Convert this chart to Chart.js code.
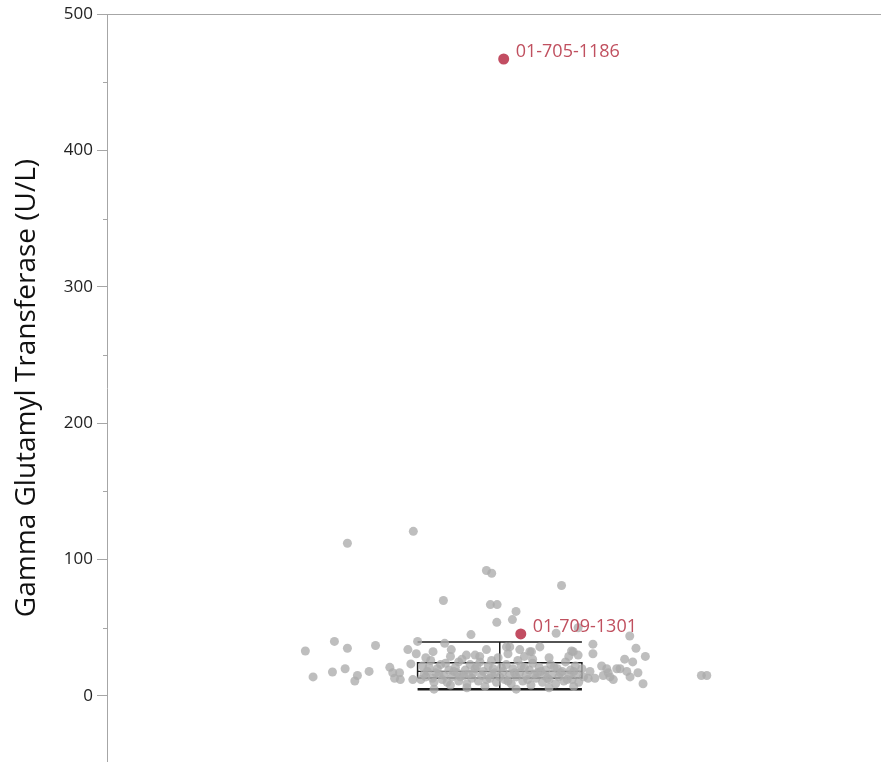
<!DOCTYPE html>
<html>
<head>
<meta charset="utf-8">
<script src="https://cdn.jsdelivr.net/npm/chart.js@4.4.1/dist/chart.umd.min.js"></script>
<style>
  html, body { margin: 0; padding: 0; background: #fff; }
  #wrap { width: 881px; height: 762px; position: relative; }
</style>
</head>
<body>
<div id="wrap"><canvas id="ggt-chart"></canvas></div>
<script>
// valores (x = desplazamiento de jitter, caja = -0.5 .. 0.5)
const grayX = [
  -0.526, -0.927, -0.081, -0.049, 0.376, -0.343, -0.057, -0.016, 0.099, -0.018,
  0.077, -0.175, 0.343, 0.477, 0.791, 0.567, 0.829, 0.886, 0.760, 0.809,
  0.567, 0.732, 0.773, 0.841, 0.793, 0.872, 1.227, 1.260, 0.620, 0.660,
  0.691, 0.549, 0.579, 0.447, 0.477, 0.244, 0.193, -1.183, -1.006, -0.927,
  -0.756, -1.136, -1.018, -0.941, -0.866, -0.882, -0.795, -0.669, -0.651, -0.610,
  -0.640, -0.605, -0.559, -0.500, -0.508, -0.541, -0.529, -0.335, 0.437, 0.651,
  0.712, 0.630, 0.671, 0.538,
  -0.406, -0.295, -0.203, -0.122, -0.081, 0.041, 0.061, 0.122, 0.183,
  -0.47, -0.44, -0.45, -0.42, -0.40, -0.38, -0.37, -0.35, -0.33, -0.31,
  -0.30, -0.29, -0.27, -0.26, -0.25, -0.23, -0.22, -0.21, -0.20, -0.18,
  -0.17, -0.16, -0.15, -0.13, -0.12, -0.11, -0.10, -0.09, -0.07, -0.06,
  -0.05, -0.04, -0.02, -0.01, 0.00, 0.02, 0.03, 0.04, 0.06, 0.07,
  0.08, 0.10, 0.11, 0.12, 0.14, 0.15, 0.16, 0.18, 0.19, 0.20,
  0.22, 0.23, 0.24, 0.26, 0.27, 0.28, 0.30, 0.31, 0.32, 0.34,
  0.35, 0.36, 0.38, 0.39, 0.40, 0.42, 0.43, 0.44, 0.46, 0.47,
  0.48, 0.50, 0.51,
  -0.48, -0.46, -0.43, -0.41, -0.39, -0.36, -0.34, -0.32, -0.28, -0.24,
  -0.19, -0.14, -0.08, -0.03, 0.01, 0.05, 0.09, 0.13, 0.17, 0.21,
  0.25, 0.29, 0.33, 0.37, 0.41, 0.45, -0.45, -0.30, -0.15, 0.05,
  0.15, 0.30, 0.42, -0.40, -0.20, 0.10, 0.30, 0.45, -0.05, 0.20, -0.25
];
const grayY = [
  120.7, 112, 92, 90, 81, 70, 67, 67, 62, 54,
  56, 45, 46, 50, 44, 38, 35, 29, 27, 25,
  31, 20, 18, 17, 14, 9, 15, 15, 22, 17,
  12, 18, 13, 32.5, 30, 36, 32.5, 33, 40, 35,
  37, 14, 17.6, 20, 15, 11, 18, 21, 17, 17,
  13, 12, 34, 40, 31, 23.5, 12, 38.6, 33, 20,
  20, 15, 14, 13,
  32.5, 34, 30, 29, 34, 36, 36, 34, 32.5,
  22, 18, 14, 26, 10, 20, 16, 12, 24, 19,
  8, 14, 21, 17, 11, 27, 15, 19, 9, 23,
  13, 17, 20, 11, 25, 15, 18, 7, 22, 13,
  16, 20, 10, 28, 14, 18, 12, 23, 16, 9,
  20, 14, 26, 17, 11, 21, 15, 19, 8, 24,
  13, 17, 21, 10, 15, 19, 12, 23, 16, 9,
  20, 14, 18, 11, 25, 15, 19, 12, 22, 16,
  10, 20, 14,
  12, 16, 21, 13, 17, 23, 15, 10, 18, 14,
  16, 22, 12, 17, 21, 11, 17, 22, 12, 16,
  18, 13, 21, 17, 12, 18, 28, 29, 30, 31,
  29, 28, 29, 5, 6, 5, 6, 7, 26, 27, 25
];
const outlierIds = ['01-705-1186', '01-709-1301'];
const outlierX = [0.024, 0.128];
const outlierY = [467, 45.5];

// caja: Q1, mediana, Q3 y bigotes
const boxStats = { low: 5, q1: 13.2, median: 18, q3: 24.4, high: 39.6 };
const boxHalf = 0.5;

const yTickValues = [0, 100, 200, 300, 400, 500];
const yMinorTicks = [-50, 50, 150, 250, 350, 450];

const pts = (xs, ys) => xs.map((x, i) => ({ x: x, y: ys[i] }));
const seg = (x1, y1, x2, y2) => [{ x: x1, y: y1 }, { x: x2, y: y2 }];

const lineSet = (data, width) => ({
  type: 'scatter', data: data, showLine: true, borderColor: '#1a1a1a',
  borderWidth: width, pointRadius: 0, order: 5
});

const marcas = {
  id: 'marcas',
  afterDraw(chart) {
    const ctx = chart.ctx;
    const a = chart.chartArea;
    const y = chart.scales.y;
    ctx.save();
    ctx.strokeStyle = '#a6a6a6';
    ctx.lineWidth = 1;
    ctx.beginPath();
    ctx.moveTo(a.left, a.top + 0.5);
    ctx.lineTo(a.right, a.top + 0.5);
    yMinorTicks.forEach(v => {
      if (v < y.min || v > y.max) return;
      const py = Math.round(y.getPixelForValue(v)) + 0.5;
      ctx.moveTo(a.left - 4, py);
      ctx.lineTo(a.left, py);
    });
    ctx.stroke();
    // etiquetas de los puntos atipicos
    ctx.fillStyle = '#c0505f';
    ctx.font = '18px "Open Sans"';
    ctx.textBaseline = 'middle';
    const meta = chart.getDatasetMeta(1);
    meta.data.forEach((p, i) => {
      ctx.fillText(outlierIds[i], p.x + 12, p.y - 7);
    });
    ctx.restore();
  }
};

const ctx = document.getElementById('ggt-chart').getContext('2d');
const chart = new Chart(ctx, {
  type: 'scatter',
  data: {
    datasets: [
      {
        data: pts(grayX, grayY),
        backgroundColor: 'rgba(172,172,172,0.78)',
        borderWidth: 0, pointRadius: 4.5, order: 2
      },
      {
        data: pts(outlierX, outlierY),
        backgroundColor: '#c24d62',
        borderWidth: 0, pointRadius: 5.5, order: 1
      },
      lineSet([
        { x: -boxHalf, y: boxStats.q1 }, { x: boxHalf, y: boxStats.q1 },
        { x: boxHalf, y: boxStats.q3 }, { x: -boxHalf, y: boxStats.q3 },
        { x: -boxHalf, y: boxStats.q1 }
      ], 1.5),
      lineSet(seg(-boxHalf, boxStats.median, boxHalf, boxStats.median), 1.2),
      lineSet(seg(-boxHalf, boxStats.high, boxHalf, boxStats.high), 1.5),
      lineSet(seg(-boxHalf, boxStats.low, boxHalf, boxStats.low), 2.5),
      lineSet(seg(0, boxStats.low, 0, boxStats.high), 1.5)
    ]
  },
  options: {
    responsive: true,
    maintainAspectRatio: false,
    animation: false,
    layout: { autoPadding: false, padding: { top: 14, right: 0, bottom: 0, left: 0 } },
    plugins: {
      legend: { display: false },
      tooltip: { enabled: false }
    },
    scales: {
      x: { type: 'linear', min: -2.39, max: 2.32, display: false },
      y: {
        type: 'linear', min: -48.4, max: 500,
        afterBuildTicks: s => { s.ticks = yTickValues.map(v => ({ value: v })); },
        afterFit: s => { s.width = 107; s.paddingTop = 0; s.paddingBottom = 0; },
        border: { color: '#a6a6a6', width: 1 },
        grid: { drawOnChartArea: false, tickLength: 10, tickColor: '#a6a6a6' },
        ticks: { color: '#222', padding: 4, font: { family: 'Open Sans', size: 17 } },
        title: {
          display: true, text: 'Gamma Glutamyl Transferase (U/L)',
          color: '#111', font: { family: 'Open Sans', size: 28 },
          padding: { top: 10, bottom: 0 }
        }
      }
    }
  },
  plugins: [marcas]
});
</script>
</body>
</html>
